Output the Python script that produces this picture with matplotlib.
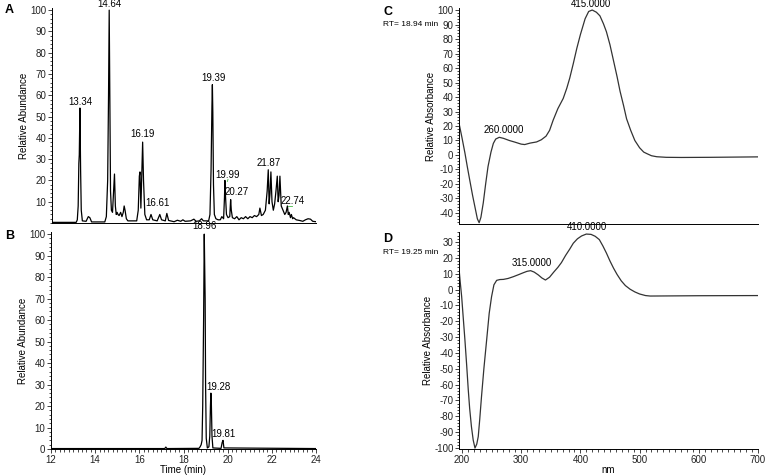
import matplotlib.pyplot as plt
from matplotlib.ticker import MultipleLocator

plt.rcParams['font.family'] = ['Liberation Sans', 'DejaVu Sans']
plt.rcParams['axes.unicode_minus'] = False

# chromatogram A (crude extract)
time_a = [12.0, 13.10, 13.15, 13.19, 13.22, 13.24, 13.27, 13.30, 13.33, 13.38, 13.55,
          13.65, 13.72, 13.80, 14.40, 14.47, 14.53, 14.57, 14.60, 14.63, 14.66, 14.70,
          14.75, 14.80, 14.84, 14.88, 14.92, 14.96, 15.00, 15.05, 15.12, 15.18, 15.24,
          15.28, 15.32, 15.38, 15.45, 15.85, 15.92, 15.97, 16.00, 16.04, 16.08, 16.12,
          16.16, 16.22, 16.30, 16.42, 16.50, 16.58, 16.78, 16.90, 16.98, 17.15, 17.22,
          17.30, 17.55, 17.70, 17.85, 17.95, 18.05, 18.30, 18.45, 18.55, 18.70, 18.80,
          18.88, 19.12, 19.18, 19.23, 19.27, 19.29, 19.31, 19.34, 19.38, 19.45, 19.55,
          19.65, 19.72, 19.80, 19.84, 19.86, 19.89, 19.93, 20.00, 20.08, 20.12, 20.15,
          20.20, 20.30, 20.40, 20.50, 20.60, 20.70, 20.80, 20.90, 21.00, 21.10, 21.20,
          21.30, 21.40, 21.45, 21.52, 21.60, 21.70, 21.78, 21.83, 21.87, 21.91, 21.95,
          22.00, 22.06, 22.12, 22.18, 22.24, 22.28, 22.32, 22.36, 22.42, 22.50, 22.58,
          22.64, 22.70, 22.74, 22.78, 22.84, 22.88, 22.94, 22.98, 23.10, 23.25, 23.40,
          23.52, 23.64, 23.75, 23.85, 24.00]
abund_a = [0.3, 0.3, 1.5, 8, 28, 32, 54, 25, 6, 1, 0.8,
           3, 2.5, 0.5, 0.5, 3, 20, 60, 100, 55, 15, 6,
           5, 15, 23, 8, 4, 5, 4, 3.5, 5, 3, 5,
           8, 6, 2, 1, 1, 6, 22, 24, 7, 22, 38,
           20, 4, 1.5, 1.5, 4, 1.5, 1, 4, 1.5, 1, 4.5,
           1.2, 0.6, 1.3, 0.8, 1.5, 0.8, 1, 1.8, 0.8, 1, 2,
           1, 1, 4, 25, 55, 65, 52, 18, 4, 2, 1.5,
           1.5, 3, 2, 12, 20, 12, 4, 2.5, 3, 11, 6,
           2.5, 2, 3, 1.5, 2.5, 2, 3, 2, 3, 2.5, 3.5,
           3, 4, 7, 3.5, 4, 6, 15, 25, 9, 14, 24,
           10, 6, 9, 15, 22, 10, 13, 22, 8, 6, 4,
           5, 8, 4, 5, 2.5, 4, 2, 2.5, 1.5, 1.2, 0.8,
           1.5, 2, 1.8, 0.8, 0.6]

# chromatogram B (purified fraction)
time_b = [12.0, 17.15, 17.20, 17.25, 18.70, 18.75, 18.80, 18.84, 18.87, 18.91, 18.94,
          18.96, 18.98, 19.00, 19.03, 19.08, 19.15, 19.19, 19.22, 19.24, 19.26, 19.29,
          19.33, 19.70, 19.75, 19.79, 19.83, 24.0]
abund_b = [0.2, 0.2, 0.9, 0.2, 0.3, 1, 2, 4, 20, 60, 100,
           85, 70, 30, 5, 0.5, 1, 6, 20, 26, 22, 6,
           0.5, 0.3, 3, 4, 0.5, 0.2]

# UV spectra C and D
nm_c = [195, 200, 205, 209, 213, 218, 222, 226, 229, 232, 236, 240, 244, 249, 253,
        257, 263, 270, 280, 290, 300, 306, 315, 326, 334, 342, 348, 354, 362, 371,
        377, 382, 388, 394, 400, 408, 414, 420, 427, 433, 439, 444, 450, 456, 462,
        467, 473, 478, 485, 492, 500, 507, 512, 520, 529, 545, 570, 620, 700]
abs_c = [22, 12, 1.4, -8, -17, -28, -36, -44, -46.7, -43, -33, -20, -8, 2, 8,
         11, 12.2, 11.5, 10, 8.8, 7.5, 7.2, 8.2, 9, 10.5, 13, 17, 24, 32, 39,
         46, 53, 63, 73.6, 83, 94, 99, 100, 98.5, 96, 90.5, 85, 76, 65, 54,
         44, 34, 25, 17, 10, 5, 2, 1, -0.5, -1.2, -1.6, -1.7, -1.6, -1.3]

nm_d = [195, 197, 199.5, 202, 205, 208, 210.6, 213, 216, 219, 222, 225, 227.5, 230,
        233, 237, 241.7, 246, 250, 254, 258.6, 264, 270, 278, 286.7, 295, 303.6, 310,
        316, 322, 329, 335, 341, 348, 355, 362, 368, 375, 382, 388, 395, 402, 410,
        418, 425, 432, 438, 444, 450, 456, 462, 469, 476, 484, 492, 500, 510, 518,
        600, 700]
abs_d = [13.4, 5, -4.5, -17, -31.8, -48, -63, -75, -86.5, -95, -100, -97.5, -92.8, -82,
         -67.6, -50, -31.8, -15, -4.5, 3, 5.8, 6.3, 6.4, 7, 8.1, 9.3, 10.6, 11.5,
         11.9, 11, 9.2, 7.3, 6, 7.8, 11, 14, 17, 21.5, 25.5, 29.2, 32, 33.8, 35,
         34.8, 33.6, 31.5, 27.5, 23, 18, 13.5, 9.5, 5.5, 2.5, 0.2, -1.5, -2.8, -3.8, -4.1,
         -3.9, -3.8]

labels_a = [('13.34', 13.27, 54.6), ('14.64', 14.60, 100.4), ('16.19', 16.12, 39.5),
            ('16.61', 16.80, 7), ('19.39', 19.33, 66), ('19.99', 20.00, 20),
            ('20.27', 20.40, 12.3), ('21.87', 21.83, 26), ('22.74', 22.95, 8)]
labels_b = [('18.96', 18.94, 101.5), ('19.28', 19.58, 26.6), ('19.81', 19.83, 4.5)]

fig = plt.figure(figsize=(7.65, 4.75), dpi=100)
fs = 7
W, H = 765, 475


def add_ax(l, t, r, b):
    return fig.add_axes([l / W, 1 - b / H, (r - l) / W, (b - t) / H])


def style(ax):
    ax.spines['top'].set_visible(False)
    ax.spines['right'].set_visible(False)
    ax.tick_params(labelsize=fs, length=3, width=0.6, pad=1, colors='#222222')
    ax.tick_params(which='minor', length=1.8, width=0.5)
    for s in ax.spines.values():
        s.set_linewidth(0.7)


axA = add_ax(52, 8, 316, 223)
axA.plot(time_a, abund_a, color='black', lw=0.9)
axA.set_xlim(12, 24)
axA.set_ylim(0, 101)
axA.set_yticks(range(10, 101, 10))
axA.yaxis.set_minor_locator(MultipleLocator(2))
axA.set_xticks([])
style(axA)
axA.set_ylabel('Relative Abundance', fontsize=fs, labelpad=1)
for txt, x, y in labels_a:
    axA.text(x, y, txt, fontsize=fs, ha='center', va='bottom', clip_on=False)
axA.plot([19.97, 20.0], [19.5, 20.5], color='#44bb44', lw=0.6)
axA.plot([22.72, 22.92], [8, 8], color='#44bb44', lw=0.6)

axB = add_ax(51, 232, 316, 449)
axB.plot(time_b, abund_b, color='black', lw=0.9)
axB.set_xlim(12, 24)
axB.set_ylim(0, 101)
axB.set_yticks(range(0, 101, 10))
axB.set_xticks(range(12, 25, 2))
axB.xaxis.set_minor_locator(MultipleLocator(0.2))
axB.yaxis.set_minor_locator(MultipleLocator(2))
style(axB)
axB.set_ylabel('Relative Abundance', fontsize=fs, labelpad=1)
axB.set_xlabel('Time (min)', fontsize=fs, labelpad=0)
for txt, x, y in labels_b:
    axB.text(x, y, txt, fontsize=fs, ha='center', va='bottom', clip_on=False)

axC = add_ax(459, 8, 758, 224)
axC.plot(nm_c, abs_c, color='#333333', lw=0.9)
axC.set_xlim(195, 700)
axC.set_ylim(-47.6, 101.4)
axC.set_yticks(range(-40, 101, 10))
axC.yaxis.set_minor_locator(MultipleLocator(2))
axC.set_xticks([])
style(axC)
axC.set_ylabel('Relative Absorbance', fontsize=fs, labelpad=1)
axC.text(417, 100.6, '415.0000', fontsize=fs, ha='center', va='bottom', clip_on=False)
axC.text(271, 13.8, '260.0000', fontsize=fs, ha='center', va='bottom')

axD = add_ax(459, 232, 758, 449)
axD.plot(nm_d, abs_d, color='#333333', lw=0.9)
axD.set_xlim(195, 700)
axD.set_ylim(-100.6, 36.3)
axD.set_yticks(range(-100, 31, 10))
axD.yaxis.set_minor_locator(MultipleLocator(2))
axD.set_xticks(range(200, 701, 100))
axD.xaxis.set_minor_locator(MultipleLocator(10))
style(axD)
axD.set_ylabel('Relative Absorbance', fontsize=fs, labelpad=1)
axD.set_xlabel('nm', fontsize=fs, labelpad=0)
axD.text(411, 36.3, '410.0000', fontsize=fs, ha='center', va='bottom', clip_on=False)
axD.text(318, 13.4, '315.0000', fontsize=fs, ha='center', va='bottom')

for letter, x, y in [('A', 5, 10), ('B', 5, 236), ('C', 383, 12), ('D', 383, 239)]:
    fig.text(x / W, 1 - y / H, letter, fontsize=9, fontweight='bold', va='center')
fig.text(383 / W, 1 - 24 / H, 'RT= 18.94 min', fontsize=6, va='center')
fig.text(383 / W, 1 - 252 / H, 'RT= 19.25 min', fontsize=6, va='center')

plt.savefig('out.png', dpi=100)
